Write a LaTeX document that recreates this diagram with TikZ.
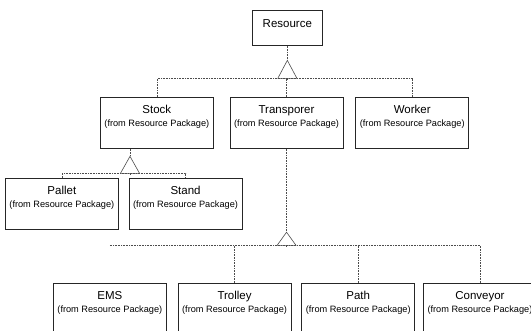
\documentclass[tikz,border=0pt]{standalone}
\usepackage{fontspec}
\setmainfont{Liberation Sans}
\usetikzlibrary{arrows.meta, positioning}
\newcommand{\hdfont}{\fontsize{11.5}{13}\selectfont}
\newcommand{\pkfont}{\fontsize{9.2}{11}\selectfont}
\newcommand{\clstext}[1]{\parbox[c][49pt][t]{111pt}{\centering\pkfont\rule{0pt}{15pt}{\hdfont #1}\\[2pt](from Resource Package)}}

\begin{document}
\begin{tikzpicture}[
	x=1pt, y=-1pt,
	node distance=10pt,
	% --- STYLES ---
	% class boxes of the UML diagram
	cls/.style={
		draw=black!85,
		line width=0.7pt,
		inner sep=1pt
	},
	% dotted connectors
	link/.style={
		densely dotted,
		line width=0.6pt,
		draw=black!70
	},
	% generalisation with open triangle
	gen/.style={
		link,
		-{Triangle[open, length=#1, width=20pt]}
	},
	gen/.default=18pt
	]
	
	\useasboundingbox (0,0) rectangle (531,331);
	
	% --- Nodes ---
	\node[cls, anchor=north west] (resource) at (252,10)
		{\parbox[c][33pt][t]{68pt}{\centering\rule{0pt}{16pt}\hdfont Resource}};
	
	\node[cls, anchor=north west] (stock) at (100,97) {\clstext{Stock}};
	\node[cls, right=16pt of stock] (transporter) {\clstext{Transporer}};
	\node[cls, right=12pt of transporter] (worker) {\clstext{Worker}};
	
	\node[cls, anchor=north west] (pallet) at (5,178) {\clstext{Pallet}};
	\node[cls, right=10pt of pallet] (stand) {\clstext{Stand}};
	
	\node[cls, anchor=north west] (ems) at (53,283) {\clstext{EMS}};
	\node[cls, right=11pt of ems] (trolley) {\clstext{Trolley}};
	\node[cls, right=10pt of trolley] (path) {\clstext{Path}};
	\node[cls, right=8pt of path] (conveyor) {\clstext{Conveyor}};
	
	% --- Junctions ---
	\coordinate (res-apex) at ([yshift=-14pt]resource.south);
	\coordinate (res-bus) at ([yshift=-33pt]resource.south);
	\coordinate (stock-apex) at ([xshift=30pt, yshift=-7pt]stock.south west);
	\coordinate (stock-bus) at ([yshift=-18pt]stock-apex);
	\coordinate (tr-apex) at ([yshift=-83pt]transporter.south);
	\coordinate (tr-bus) at ([yshift=-97pt]transporter.south);
	
	% --- Connections ---
	\draw[link] (resource) -- (res-apex);
	\draw[gen=19pt] (res-bus) -- (res-apex);
	\draw[link] (stock.north) |- (res-bus) -| (worker.north);
	\draw[link] (transporter.north) -- (transporter.north |- res-bus);
	
	\draw[link] (stock-apex |- stock.south) -- (stock-apex);
	\draw[gen=18pt] (stock-bus) -- (stock-apex);
	\draw[link] (pallet.north) |- (stock-bus) -| (stand.north);
	
	\draw[link] (transporter) -- (tr-apex);
	\draw[gen=14pt] (tr-bus) -- (tr-apex);
	\draw[link] (ems.north |- tr-bus) -- (conveyor.north |- tr-bus);
	\draw[link] (trolley.north) -- (trolley.north |- tr-bus);
	\draw[link] (path.north) -- (path.north |- tr-bus);
	\draw[link] (conveyor.north) -- (conveyor.north |- tr-bus);
	
\end{tikzpicture}
\end{document}
